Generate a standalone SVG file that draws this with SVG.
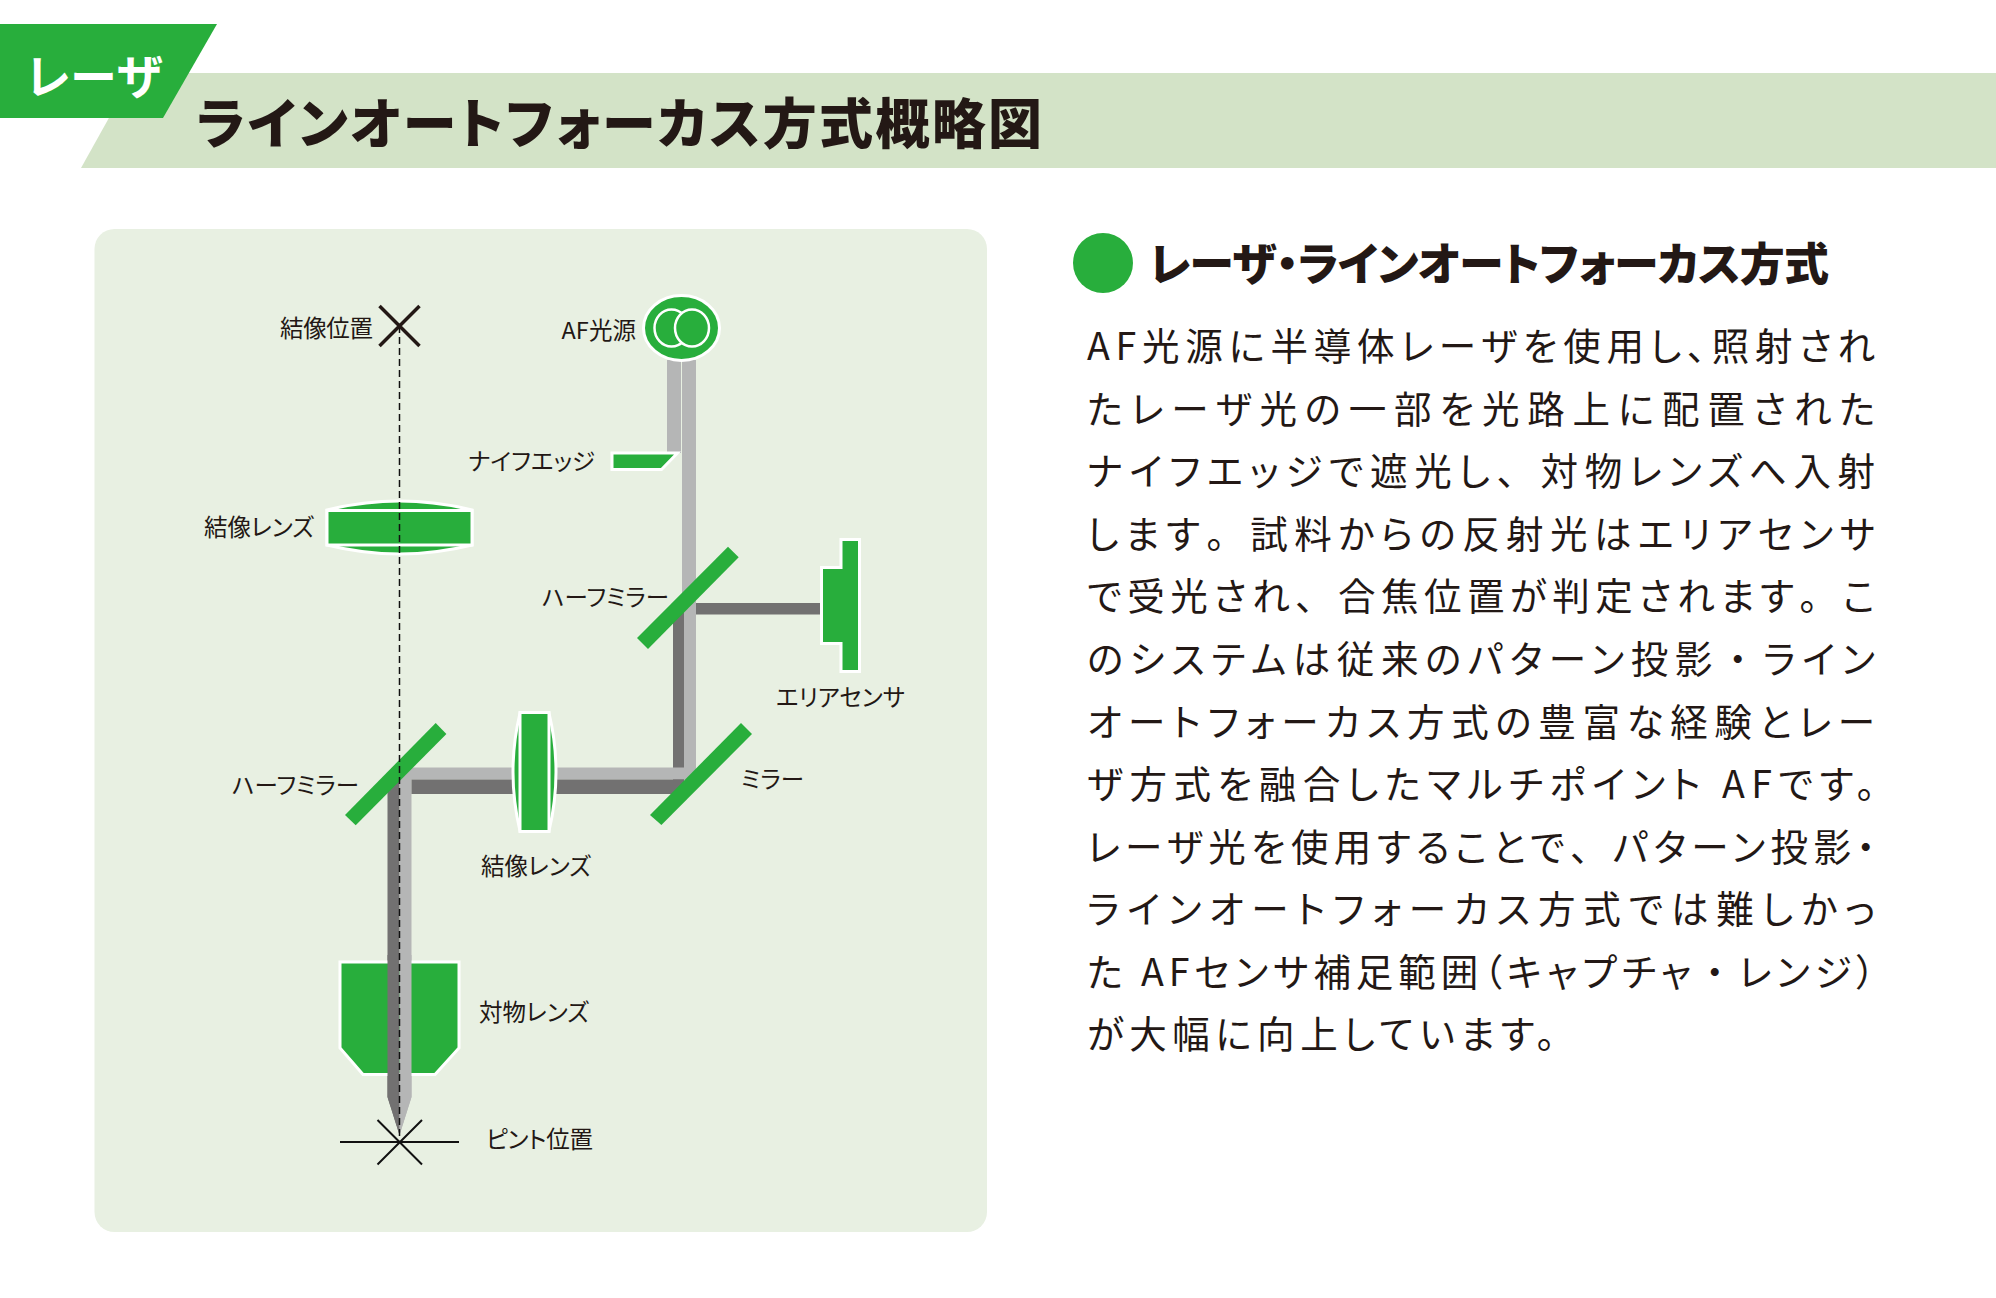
<svg xmlns="http://www.w3.org/2000/svg" width="1996" height="1298" viewBox="0 0 1996 1298">
<style>
text{font-family:"Noto Sans CJK JP","Noto Sans",sans-serif;fill:#231815;font-feature-settings:"palt"}
.lb{font-size:23.5px}
.bd{font-size:37.5px;font-weight:400}
.fw{font-feature-settings:normal}
.g{fill:#28ae3c}
.gw{fill:#28ae3c;stroke:#fff;stroke-width:3}
.l{fill:#b5b6b6}
.d{fill:#727171}
</style>
<rect width="1996" height="1298" fill="#fff"/>
<g id="header">
<polygon points="134,73 1996,73 1996,168 81,168" fill="#d3e3c7"/>
<polygon points="0,24 217,24 163,118 0,118" class="g"/>
<text x="26" y="94" font-size="47" font-weight="700" style="fill:#fff" textLength="137">レーザ</text>
<text x="196" y="143.5" font-size="54" font-weight="900" textLength="846">ラインオートフォーカス方式概略図</text>
</g>
<rect id="panel" x="94.5" y="229" width="892.5" height="1003" rx="20" fill="#e8f0e2"/>
<g id="connectors">
<rect class="l" x="667" y="360" width="14" height="93"/>
<rect class="l" x="682" y="360" width="14" height="260"/>
<rect class="d" x="696" y="603" width="125" height="11.5"/>
<rect class="d" x="673" y="610" width="11" height="170"/>
<polygon class="l" points="684,610 696,610 696,780 684,780"/>
<polygon class="l" points="400,767.5 684,767.5 684,779.5 411.5,779.5 411.5,1097 399.5,1135"/>
<polygon class="d" points="411.5,779.5 684,779.5 684,794 411.5,794"/>
<polygon class="d" points="387.5,790 399.5,775 399.5,1135 387.5,1097"/>
</g>
<g id="af-source">
<ellipse class="gw" cx="681.5" cy="328" rx="38" ry="32.5"/>
<ellipse cx="671.5" cy="328" rx="17" ry="18.5" fill="none" stroke="#fff" stroke-width="2.5"/>
<ellipse cx="692" cy="328" rx="17" ry="18.5" fill="#28ae3c" stroke="#fff" stroke-width="2.5"/>
</g>
<g id="knife-edge"><polygon class="gw" points="612,453 677.5,453 661.5,469.5 612,469.5"/></g>
<g id="image-lens-top">
<path class="gw" d="M327,510 Q399.5,492 472,510 L472,545 Q399.5,563 327,545 Z"/>
<rect class="gw" x="327" y="510.5" width="145" height="34.5"/>
</g>
<g id="half-mirror-top"><polygon class="g" points="728,546.7 738.7,557.3 648,649 637,638"/></g>
<g id="sensor"><polygon class="gw" points="841,539.5 859.5,539.5 859.5,671.5 841,671.5 841,643.5 821.5,643.5 821.5,567.5 841,567.5"/></g>
<g id="half-mirror-left"><polygon class="g" points="435.7,723 446.4,734 355.7,825.3 345,815"/></g>
<g id="mirror"><polygon class="g" points="741,723 752,734 661.4,825 650,815"/></g>
<g id="image-lens-bottom">
<path class="gw" d="M520,713 Q506,772 520,831 L549,831 Q563,772 549,713 Z"/>
<rect class="gw" x="520" y="712.5" width="29" height="119"/>
</g>
<g id="objective"><polygon class="gw" points="340,962 459,962 459,1048 435,1074.5 363,1074.5 340,1048"/></g>
<g id="objective-beam">
<polygon class="d" points="387.5,955 399.5,955 399.5,1135 387.5,1097"/>
<polygon class="l" points="399.5,955 411.5,955 411.5,1097 399.5,1135"/>
</g>
<g id="axis"><line x1="399.5" y1="326" x2="399.5" y2="1136" stroke="#111" stroke-width="1.5" stroke-dasharray="7 4"/></g>
<g id="image-position">
<path d="M379.5,306 L419.5,346 M419.5,306 L379.5,346" stroke="#231815" stroke-width="3.5" fill="none"/>
<text class="lb" x="280" y="337" textLength="93">結像位置</text>
</g>
<g id="focus-position">
<path d="M340,1142 H459 M377.5,1120 L422,1164.5 M422,1120 L377.5,1164.5" stroke="#111" stroke-width="2" fill="none"/>
<text class="lb" x="486" y="1148" textLength="107">ピント位置</text>
</g>
<g id="labels">
<text class="lb" x="204" y="536" textLength="110">結像レンズ</text>
<text class="lb" x="468" y="470" textLength="127">ナイフエッジ</text>
<text class="lb" x="561.5" y="339" textLength="74.5">AF光源</text>
<text class="lb" x="542" y="606" textLength="127">ハーフミラー</text>
<text class="lb" x="776" y="706" textLength="129">エリアセンサ</text>
<text class="lb" x="232" y="794" textLength="127">ハーフミラー</text>
<text class="lb" x="741" y="788" textLength="63">ミラー</text>
<text class="lb" x="481" y="875" textLength="110">結像レンズ</text>
<text class="lb" x="479" y="1021" textLength="110">対物レンズ</text>
</g>
<g id="heading">
<circle cx="1103" cy="263" r="30" class="g"/>
<text x="1149" y="280.5" font-size="45" font-weight="900" textLength="680">レーザ・ラインオートフォーカス方式</text>
</g>
<g id="body">
<text class="bd" x="1087" y="360" textLength="788">AF光源に半導体レーザを使用し、照射され</text>
<text class="bd" x="1087" y="422.6" textLength="788">たレーザ光の一部を光路上に配置された</text>
<text class="bd" x="1087" y="485.2" textLength="788">ナイフエッジで遮光し<tspan class="fw">、</tspan>対物レンズへ入射</text>
<text class="bd" x="1087" y="547.7" textLength="788">します<tspan class="fw">。</tspan>試料からの反射光はエリアセンサ</text>
<text class="bd" x="1087" y="610.3" textLength="788">で受光され<tspan class="fw">、</tspan>合焦位置が判定されます<tspan class="fw">。</tspan>こ</text>
<text class="bd" x="1087" y="672.9" textLength="788">のシステムは従来のパターン投影<tspan class="fw">・</tspan>ライン</text>
<text class="bd" x="1087" y="735.5" textLength="788">オートフォーカス方式の豊富な経験とレー</text>
<text class="bd" x="1087" y="798" textLength="788">ザ方式を融合したマルチポイント AFです。</text>
<text class="bd" x="1087" y="860.6" textLength="788">レーザ光を使用することで<tspan class="fw">、</tspan>パターン投影・</text>
<text class="bd" x="1087" y="923.2" textLength="788">ラインオートフォーカス方式では難しかっ</text>
<text class="bd" x="1087" y="985.8" textLength="788">た AFセンサ補足範囲（キャプチャ<tspan class="fw">・</tspan>レンジ）</text>
<text class="bd" x="1087" y="1048" textLength="468">が大幅に向上しています。</text>
</g>
</svg>
